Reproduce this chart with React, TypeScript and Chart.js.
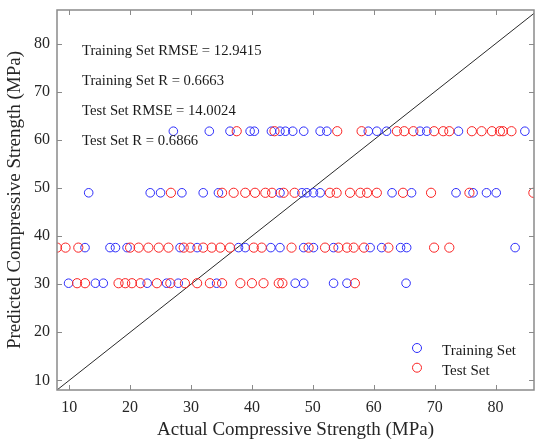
import React, { useEffect, useRef } from 'react';
import { Chart, registerables } from 'chart.js';

Chart.register(...registerables);

// Predicted levels (MPa)
const levelLow = 30.2;
const levelMid = 37.6;
const levelHigh = 49.0;
const levelTop = 61.8;

// Training set: actual strengths at each predicted level
const trainAtLow = [9.9, 14.3, 15.6, 22.8, 26.0, 27.9, 34.2, 47.1, 48.5, 53.4, 55.6, 65.3];
const trainAtMid = [12.6, 16.7, 17.6, 19.5, 28.2, 31.0, 37.8, 38.9, 43.1, 44.6, 48.5, 50.1, 53.4, 59.4, 61.3, 64.4, 65.4, 83.2];
const trainAtHigh = [13.2, 23.3, 25.0, 28.5, 32.0, 34.5, 44.6, 48.2, 49.0, 50.1, 51.2, 63.0, 66.2, 73.5, 76.3, 78.5, 80.1];
const trainAtTop = [27.1, 33.0, 36.4, 39.7, 40.4, 43.2, 44.6, 45.5, 46.7, 48.5, 51.2, 52.3, 59.1, 60.5, 62.1, 67.6, 68.7, 73.9, 84.8];

// Test set: actual strengths at each predicted level
const testAtLow = [11.3, 12.6, 18.1, 19.2, 20.3, 21.7, 24.4, 26.6, 29.0, 31.0, 33.1, 35.1, 38.1, 40.0, 41.9, 44.4, 45.0, 56.9];
const testAtMid = [8.0, 9.4, 11.5, 20.0, 21.4, 23.0, 24.7, 26.3, 28.8, 29.9, 32.0, 33.4, 34.8, 36.4, 40.3, 41.6, 46.5, 49.3, 52.0, 54.2, 55.6, 56.7, 58.4, 62.4, 69.9, 72.4];
const testAtHigh = [26.7, 35.1, 37.0, 38.9, 40.5, 42.2, 43.3, 45.2, 47.0, 52.8, 53.9, 56.1, 57.8, 58.9, 60.5, 64.8, 69.4, 75.7, 86.2];
const testAtTop = [37.5, 43.7, 54.0, 58.0, 63.8, 65.0, 66.5, 69.9, 71.4, 72.4, 76.1, 77.7, 79.4, 80.7, 81.2, 82.6];

// Reference y = x line end values
const refLine = [8, 87];

const xTicks = [10, 20, 30, 40, 50, 60, 70, 80];
const yTicks = [10, 20, 30, 40, 50, 60, 70, 80];

const statLines = [
  'Training Set RMSE = 12.9415',
  'Training Set R = 0.6663',
  'Test Set RMSE = 14.0024',
  'Test Set R = 0.6866',
];
const legendLabels = ['Training Set', 'Test Set'];

const BLUE = 'rgb(45,45,250)';
const RED = 'rgb(250,35,35)';
const AXIS = '#8a8a8a';
const FONT = "'Liberation Serif', 'Times New Roman', serif";

function toPoints(xs: number[], level: number) {
  return xs.map((x) => ({ x, y: level }));
}

const trainPoints = [
  ...toPoints(trainAtLow, levelLow),
  ...toPoints(trainAtMid, levelMid),
  ...toPoints(trainAtHigh, levelHigh),
  ...toPoints(trainAtTop, levelTop),
];
const testPoints = [
  ...toPoints(testAtLow, levelLow),
  ...toPoints(testAtMid, levelMid),
  ...toPoints(testAtHigh, levelHigh),
  ...toPoints(testAtTop, levelTop),
];

const framePlugin = {
  id: 'frame',
  afterDatasetsDraw(chart: any) {
    const { ctx, chartArea } = chart;
    const { left, right, top, bottom } = chartArea;
    const xs = chart.scales.x;
    const ys = chart.scales.y;
    ctx.save();
    ctx.strokeStyle = AXIS;
    ctx.lineWidth = 1.5;
    ctx.strokeRect(left, top, right - left, bottom - top);
    ctx.beginPath();
    ctx.lineWidth = 1;
    xTicks.forEach((v) => {
      const px = Math.round(xs.getPixelForValue(v)) + 0.5;
      ctx.moveTo(px, bottom);
      ctx.lineTo(px, bottom - 5);
      ctx.moveTo(px, top);
      ctx.lineTo(px, top + 5);
    });
    yTicks.forEach((v) => {
      const py = Math.round(ys.getPixelForValue(v)) + 0.5;
      ctx.moveTo(left, py);
      ctx.lineTo(left + 5, py);
      ctx.moveTo(right, py);
      ctx.lineTo(right - 5, py);
    });
    ctx.stroke();

    // statistics text
    ctx.fillStyle = '#1a1a1a';
    ctx.font = `14.7px ${FONT}`;
    ctx.textBaseline = 'alphabetic';
    ctx.textAlign = 'left';
    statLines.forEach((t, i) => {
      ctx.fillText(t, left + 25, top + 45 + i * 30);
    });

    // legend
    const lx = right - 117;
    const ly = bottom - 42;
    [BLUE, RED].forEach((c, i) => {
      ctx.beginPath();
      ctx.strokeStyle = c;
      ctx.lineWidth = 1;
      ctx.arc(lx, ly + i * 19.7, 4.5, 0, Math.PI * 2);
      ctx.stroke();
    });
    ctx.font = `15px ${FONT}`;
    ctx.fillStyle = '#1a1a1a';
    legendLabels.forEach((t, i) => {
      ctx.fillText(t, lx + 25, ly + 7 + i * 19.5);
    });
    ctx.restore();
  },
};

function zeroPad(scale: any) {
  scale.paddingTop = 0;
  scale.paddingBottom = 0;
  scale.paddingLeft = 0;
  scale.paddingRight = 0;
}

export default function App() {
  const ref = useRef<HTMLCanvasElement | null>(null);
  useEffect(() => {
    document.body.style.margin = '0';
    const canvas = ref.current;
    if (!canvas) return;
    const chart = new Chart(canvas, {
      type: 'scatter',
      data: {
        datasets: [
          {
            label: 'Test Set',
            data: testPoints,
            borderColor: RED,
            backgroundColor: 'transparent',
            borderWidth: 1,
            pointRadius: 4.6,
            pointStyle: 'circle',
          },
          {
            label: 'Training Set',
            data: trainPoints,
            borderColor: BLUE,
            backgroundColor: 'transparent',
            borderWidth: 1,
            pointRadius: 4.3,
            pointStyle: 'circle',
          },
          {
            label: 'y = x',
            data: refLine.map((v) => ({ x: v, y: v })),
            showLine: true,
            borderColor: '#2a2a2a',
            borderWidth: 1,
            pointRadius: 0,
          },
        ],
      } as any,
      plugins: [framePlugin],
      options: {
        responsive: false,
        animation: false,
        layout: { autoPadding: false, padding: { top: 10, right: 1, left: 0, bottom: 0 } },
        plugins: { legend: { display: false }, tooltip: { enabled: false } },
        scales: {
          x: {
            type: 'linear',
            min: 8,
            max: 86.3,
            grid: { display: false, drawTicks: false },
            border: { display: false },
            afterBuildTicks: (scale: any) => {
              scale.ticks = xTicks.map((v) => ({ value: v }));
            },
            afterFit: (scale: any) => {
              scale.height = 54;
              zeroPad(scale);
            },
            ticks: {
              padding: 8,
              color: '#262626',
              font: { family: FONT, size: 16 },
              callback: (v: any) => String(v),
            },
            title: {
              display: true,
              text: 'Actual Compressive Strength (MPa)',
              color: '#262626',
              font: { family: FONT, size: 19 },
              padding: { top: 0, bottom: 2.5 },
            },
          },
          y: {
            type: 'linear',
            min: 8,
            max: 87,
            grid: { display: false, drawTicks: false },
            border: { display: false },
            afterBuildTicks: (scale: any) => {
              scale.ticks = yTicks.map((v) => ({ value: v }));
            },
            afterFit: (scale: any) => {
              scale.width = 57;
              zeroPad(scale);
            },
            ticks: {
              padding: 7,
              color: '#262626',
              font: { family: FONT, size: 16 },
              callback: (v: any) => String(v),
            },
            title: {
              display: true,
              text: 'Predicted Compressive Strength (MPa)',
              color: '#262626',
              font: { family: FONT, size: 19 },
              padding: { top: 4, bottom: 0 },
            },
          },
        },
      } as any,
    });
    return () => chart.destroy();
  }, []);
  return <canvas ref={ref} width={535} height={444} style={{ display: 'block' }} />;
}
